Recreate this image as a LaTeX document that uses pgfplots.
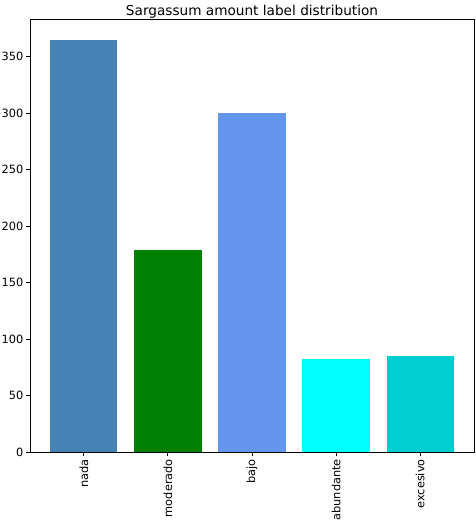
\documentclass[border=0pt]{standalone}
\usepackage{pgfplots}
\pgfplotsset{compat=1.18}
\usepackage{fontspec}
\setmainfont{DejaVu Sans}
\definecolor{steelblue}{RGB}{70,130,180}
\definecolor{mplgreen}{RGB}{0,128,0}
\definecolor{cornflower}{RGB}{100,149,237}
\definecolor{mplcyan}{RGB}{0,255,255}
\definecolor{darkturq}{RGB}{0,206,209}
\begin{document}
\begin{tikzpicture}
\useasboundingbox (-30bp,-70bp) rectangle (446bp,452bp);
\begin{axis}[
  at={(0,0)}, anchor=south west,
  scale only axis,
  width=444bp, height=433bp,
  xmin=-0.64, xmax=4.64,
  ymin=0, ymax=383.25,
  xtick={0,1,2,3,4},
  xticklabels={nada,moderado,bajo,abundante,excesivo},
  x tick label style={rotate=90, anchor=east, font=\fontsize{11.4}{13}\selectfont, inner sep=3bp},
  ytick={0,50,100,150,200,250,300,350},
  y tick label style={font=\fontsize{11.4}{13}\selectfont, inner sep=2.5bp},
  /pgf/number format/assume math mode=true,
  tick align=outside,
  tick pos=left,
  major tick length=4bp,
  axis line style={black, line width=0.9bp},
  every tick/.style={black, line width=0.9bp},
  title={Sargassum amount label distribution},
  title style={font=\fontsize{13.7}{16}\selectfont, yshift=-8.5bp},
  clip=false,
]
\addplot[ybar, bar width=0.8, bar shift=0pt, fill=steelblue, draw=none] coordinates {(0,365)};
\addplot[ybar, bar width=0.8, bar shift=0pt, fill=mplgreen, draw=none] coordinates {(1,179)};
\addplot[ybar, bar width=0.8, bar shift=0pt, fill=cornflower, draw=none] coordinates {(2,300)};
\addplot[ybar, bar width=0.8, bar shift=0pt, fill=mplcyan, draw=none] coordinates {(3,82)};
\addplot[ybar, bar width=0.8, bar shift=0pt, fill=darkturq, draw=none] coordinates {(4,85)};
\end{axis}
\end{tikzpicture}
\end{document}
